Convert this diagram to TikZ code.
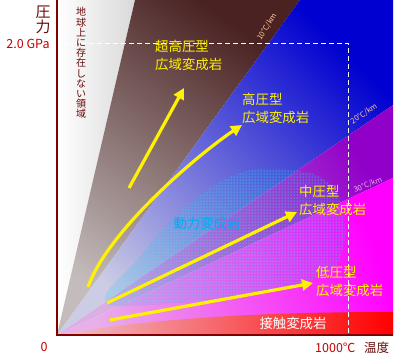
\documentclass[tikz,border=0pt]{standalone}
\usepackage{fontspec}
\setmainfont{Noto Sans CJK JP}
\usetikzlibrary{arrows.meta,patterns}
\definecolor{axisred}{HTML}{800000}
\definecolor{labred}{HTML}{C80000}
\definecolor{darkred}{HTML}{6A0A0A}
\definecolor{brownD}{HTML}{4A2222}
\definecolor{brownL}{HTML}{C4BCBC}
\definecolor{blueD}{HTML}{0000D0}
\definecolor{blueL}{HTML}{CCCCE4}
\definecolor{purpD}{HTML}{9000C8}
\definecolor{purpL}{HTML}{DAB0E4}
\definecolor{magD}{HTML}{FF00FF}
\definecolor{magL}{HTML}{E8B0E8}
\definecolor{conL}{HTML}{EEC4CC}
\definecolor{peach}{HTML}{FFC8A0}
\definecolor{pinkl}{HTML}{F4A8EC}
\begin{document}
\begin{tikzpicture}[x=1pt,y=-1pt,
  lab/.style={text=yellow, font=\fontsize{13.4}{18}\selectfont, align=left, inner sep=0, anchor=north west},
  arr/.style={yellow, line width=3.2pt, -{Triangle[length=11pt,width=11pt]}},
  gradlab/.style={font=\fontsize{7.5}{8}\selectfont, inner sep=0},
  axislab/.style={inner sep=0, font=\fontsize{12.5}{14}\selectfont}
]
\useasboundingbox (0,0) rectangle (401,360);
\coordinate (O) at (57,335);
\coordinate (TL) at (57,0);
\coordinate (W) at (135,0);
\coordinate (B) at (300,0);
\coordinate (TR) at (393,0);
\coordinate (P) at (393,105);
\coordinate (M) at (393,178);
\coordinate (C) at (393,312);
\coordinate (BR) at (393,335);
\begin{scope}
\clip (57,0) rectangle (393,335);
\shade[left color=white, right color=gray!30] (O) -- (TL) -- (W) -- cycle;
\shade[top color=brownD, bottom color=brownL, shading angle=-35] (O) -- (W) -- (B) -- cycle;
\shade[top color=blueD, bottom color=blueL, shading angle=-45] (O) -- (B) -- (TR) -- (P) -- cycle;
\shade[top color=purpD, bottom color=purpL, shading angle=-60] (O) -- (P) -- (M) -- cycle;
\shade[top color=magD, bottom color=magL, shading angle=-70] (O) -- (M) -- (BR) -- cycle;
\shade[left color=conL, right color=red] (O) .. controls (150,319) and (250,312) .. (C) -- (BR) -- cycle;
\fill[cyan, opacity=0.12] plot[smooth cycle, tension=0.7] coordinates {(105,300) (137,260) (180,212) (237,174) (290,170) (325,180) (341,205) (343,250) (320,276) (250,294) (150,305)};
\fill[pattern=dots, pattern color=cyan!80!white] plot[smooth cycle, tension=0.7] coordinates {(105,300) (137,260) (180,212) (237,174) (290,170) (325,180) (341,205) (343,250) (320,276) (250,294) (150,305)};
\end{scope}
% dashed guide lines
\coordinate (G1) at (57,43);
\coordinate (G2) at (348,43);
\coordinate (G3) at (348,335);
\draw[white, line width=0.9pt, dash pattern=on 5pt off 3pt] (G1) -- (G2) -- (G3);
% axes
\draw[axisred, line width=1.3pt] (TL) -- (O) -- (BR);
% axis labels
\node[axislab, text=darkred, align=center, font=\fontsize{15}{15}\selectfont] (ylab) at (43,20) {圧\\力};
\node[axislab, text=labred] (gpa) at (28,44) {2.0 GPa};
\node[axislab, text=labred] (zero) at (44,347) {0};
\node[axislab, text=labred, anchor=west] (tmax) at (315,348) {1000℃};
\node[axislab, text=darkred, anchor=west] (xlab) at (364,348) {温度};
\node[inner sep=0, text=darkred, align=center, font=\fontsize{10}{10.2}\selectfont] (none) at (81,63) {地\\球\\上\\に\\存\\在\\し\\な\\い\\領\\域};
% gradient labels
\node[gradlab, text=peach, rotate=58] (g10) at (267,27) {10°C/km};
\node[gradlab, text=peach, rotate=34] (g20) at (364,114) {20°C/km};
\node[gradlab, text=pinkl, rotate=23] (g30) at (368,185) {30°C/km};
% rock labels
\node[lab] (uhp) at (155,40) {超高圧型\\広域変成岩};
\node[lab] (hp) at (242,93) {高圧型\\広域変成岩};
\node[lab] (mp) at (299,185) {中圧型\\広域変成岩};
\node[lab] (lp) at (316,266) {低圧型\\広域変成岩};
\node[inner sep=0, text=white, font=\fontsize{13.4}{15}\selectfont] (cm) at (293,323) {接触変成岩};
\node[inner sep=0, text=cyan, font=\fontsize{13.4}{15}\selectfont] (dm) at (207,223) {動力変成岩};
% arrows
\coordinate (a1s) at (129,188);
\coordinate (a1e) at (184,88);
\coordinate (a2s) at (88,287);
\coordinate (a2e) at (242,125);
\coordinate (a3s) at (107,303);
\coordinate (a3e) at (297,212);
\coordinate (a4s) at (110,320);
\coordinate (a4e) at (313,283);
\draw[arr] (a1s) -- (a1e);
\draw[arr] (a2s) .. controls (108,230) and (200,153) .. (a2e);
\draw[arr] (a3s) -- (a3e);
\draw[arr] (a4s) -- (a4e);
\end{tikzpicture}
\end{document}
